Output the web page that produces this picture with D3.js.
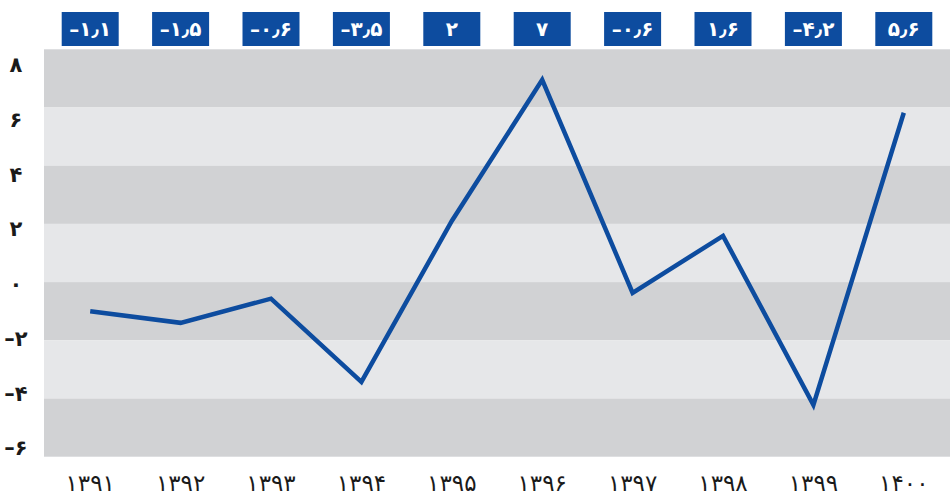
<!DOCTYPE html>
<html><head><meta charset="utf-8">
<script src="https://cdn.jsdelivr.net/npm/d3@7/dist/d3.min.js"></script>
<style>
body{margin:0;background:#fff;}
svg{display:block;font-family:"DejaVu Sans",sans-serif;}
</style></head>
<body><svg id="c" width="950" height="495"></svg>
<script>
const years = ["۱۳۹۱","۱۳۹۲","۱۳۹۳","۱۳۹۴","۱۳۹۵","۱۳۹۶","۱۳۹۷","۱۳۹۸","۱۳۹۹","۱۴۰۰"];
const boxLabels = ["–۱٫۱","–۱٫۵","–۰٫۶","–۳٫۵","۲","۷","–۰٫۶","۱٫۶","–۴٫۲","۵٫۶"];
const lineValues = [-1.0, -1.4, -0.57, -3.43, 2.1, 6.95, -0.37, 1.59, -4.22, 5.82];
const yTicks = [8, 6, 4, 2, 0, -2, -4, -6];
const yTickLabels = ["۸","۶","۴","۲","۰","–۲","–۴","–۶"];

const svg = d3.select("#c");
const L = 44, R = 950, T = 49.3, B = 456.7;
const x = d3.scaleBand().domain(years).range([45, 949]);
const y = d3.scaleLinear().domain([-6, 8]).range([B, T]);
const yLab = d3.scaleLinear().domain([-6, 8]).range([448, 65]);

// bands
const bands = d3.range(7).map(i => ({hi: 8 - 2*i, lo: 6 - 2*i, dark: i % 2 === 0}));
svg.append("g").selectAll("rect").data(bands).join("rect")
  .attr("x", L).attr("width", R - L)
  .attr("y", d => y(d.hi)).attr("height", d => y(d.lo) - y(d.hi))
  .attr("fill", d => d.dark ? "#d1d2d4" : "#e6e7e9");

// y labels
svg.append("g").selectAll("text").data(yTicks).join("text")
  .attr("x", 16).attr("y", d => yLab(d)).attr("dy", "0.35em")
  .attr("text-anchor", "middle").attr("font-size", 21).attr("font-weight", "bold")
  .attr("fill", "#1a1a1a").attr("direction", "ltr")
  .text((d, i) => yTickLabels[i]);

// x labels
svg.append("g").selectAll("text").data(years).join("text")
  .attr("x", d => x(d) + x.bandwidth()/2).attr("y", 483).attr("dy", "0.35em")
  .attr("text-anchor", "middle").attr("font-size", 23)
  .attr("fill", "#1a1a1a")
  .text(d => d);

// value boxes
const g = svg.append("g").selectAll("g").data(years).join("g")
  .attr("transform", d => `translate(${x(d) + x.bandwidth()/2},0)`);
g.append("rect").attr("x", -28.5).attr("y", 12).attr("width", 57).attr("height", 34)
  .attr("fill", "#0d4c9f");
g.append("text").attr("x", 0).attr("y", 29).attr("dy", "0.35em")
  .attr("text-anchor", "middle").attr("font-size", 20).attr("font-weight", "bold")
  .attr("fill", "#fff").attr("direction", "ltr")
  .text((d, i) => boxLabels[i]);

// line
const line = d3.line().x((d, i) => x(years[i]) + x.bandwidth()/2).y(d => y(d));
svg.append("path").datum(lineValues).attr("d", line)
  .attr("fill", "none").attr("stroke", "#0d4c9f").attr("stroke-width", 4.5)
  .attr("stroke-linejoin", "miter").attr("stroke-miterlimit", 10);
</script></body></html>
